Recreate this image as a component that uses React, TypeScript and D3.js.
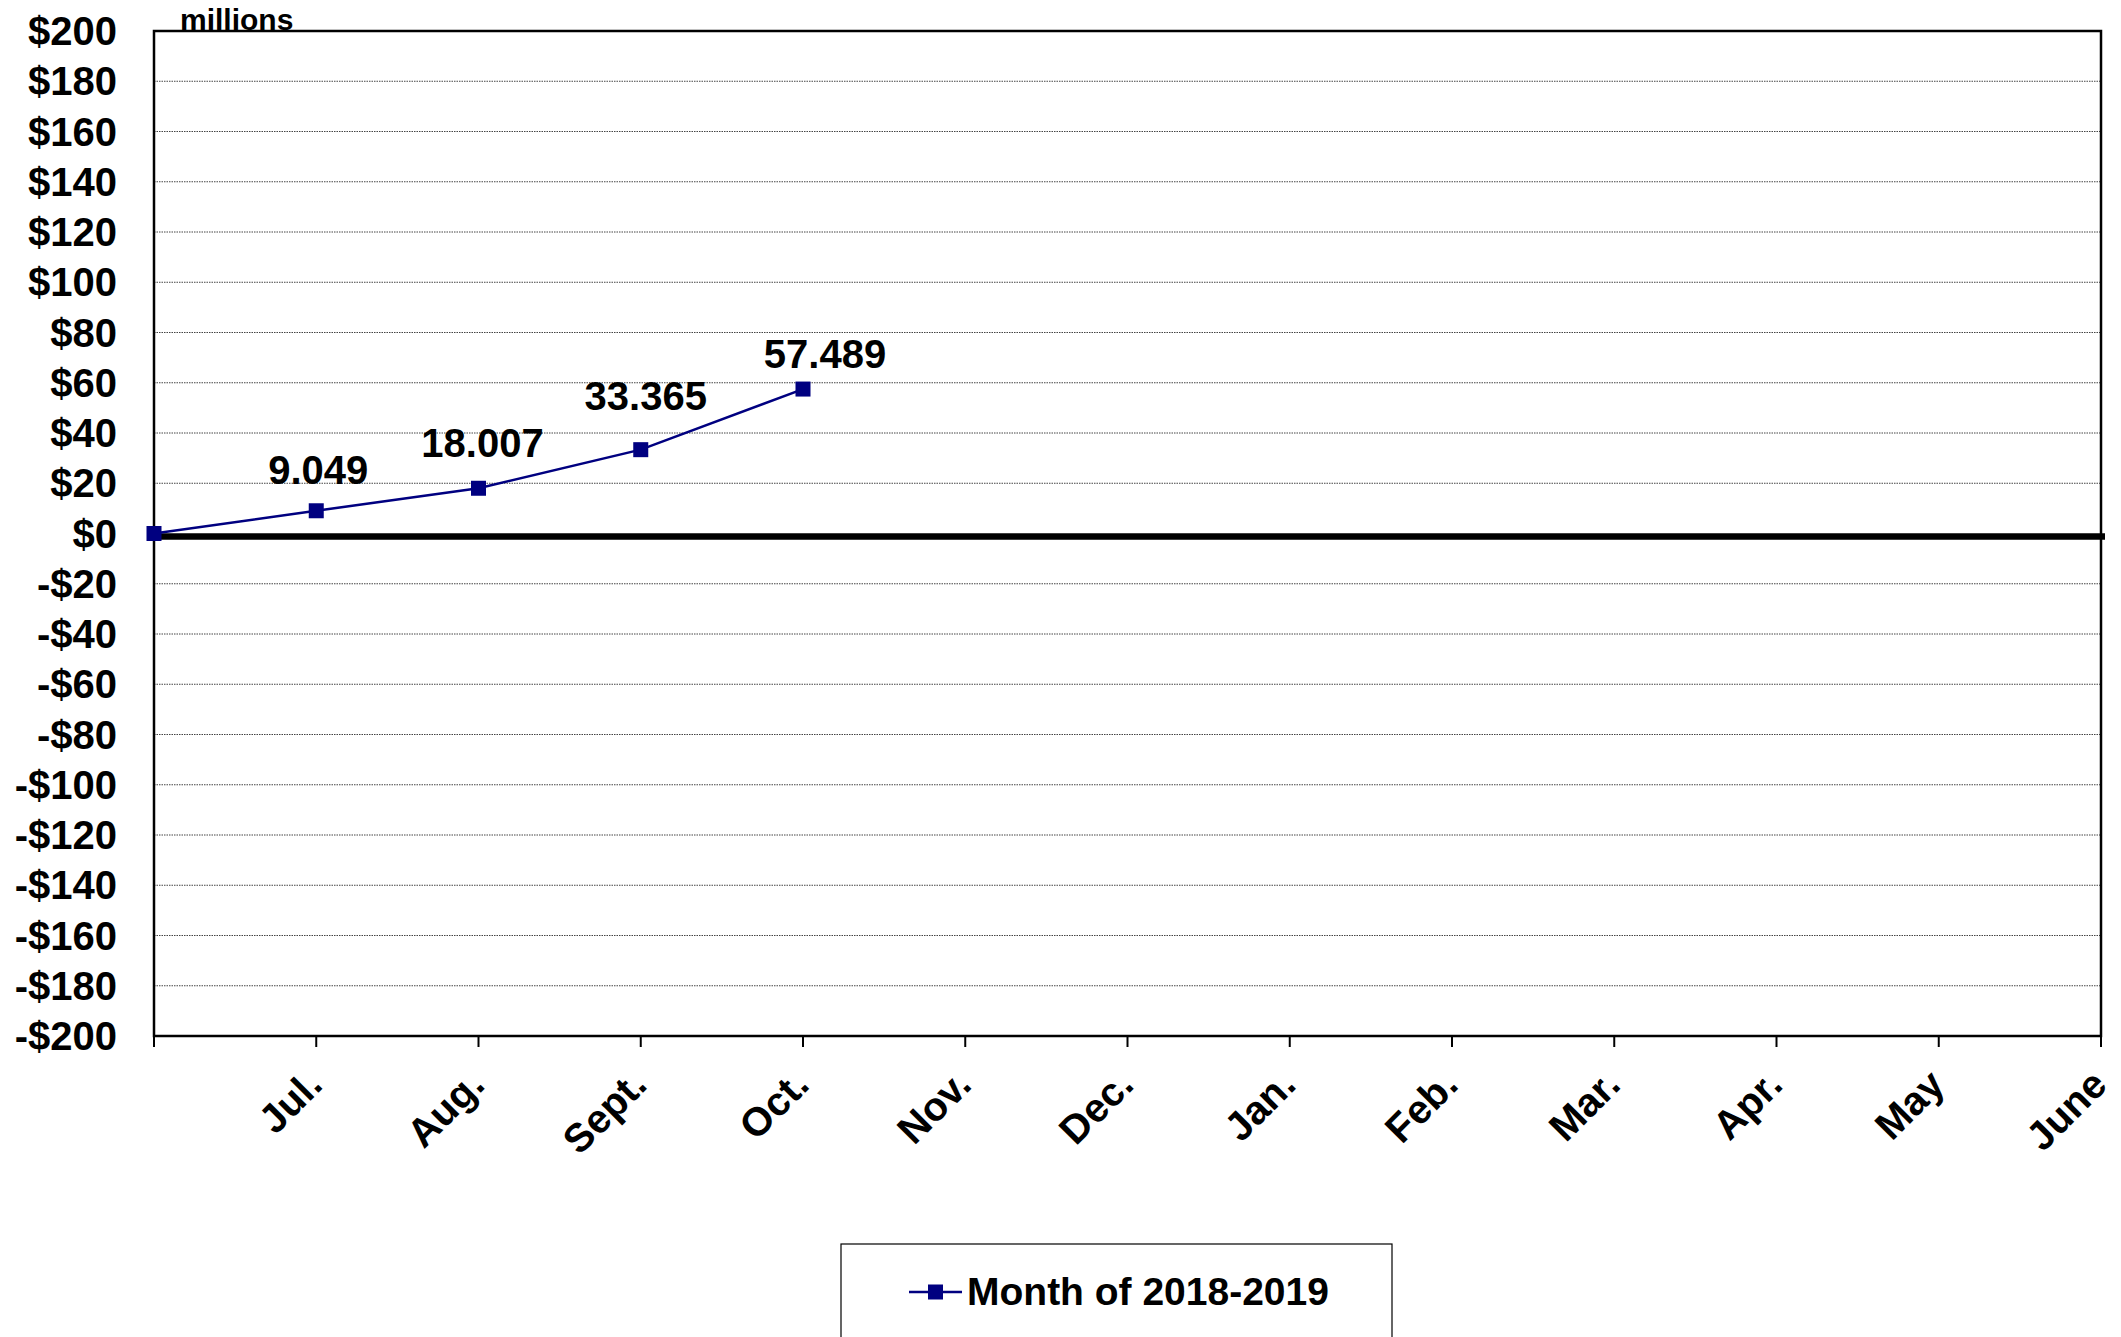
import React from 'react';
import * as d3 from 'd3';

// x positions: index 0 is the start of the fiscal year (no label)
const months = ['', 'Jul.', 'Aug.', 'Sept.', 'Oct.', 'Nov.', 'Dec.', 'Jan.', 'Feb.', 'Mar.', 'Apr.', 'May', 'June'];
const values = [0, 9.049, 18.007, 33.365, 57.489];
const valueLabels = ['', '9.049', '18.007', '33.365', '57.489'];
// small nudges for the data labels, [dx, dy] from the point
const labelNudge = [[0, 0], [2, -27], [4, -31], [5, -40], [22, -21]];
const yTicks = d3.range(-200, 201, 20);
const seriesName = 'Month of 2018-2019';

const W = 2121;
const H = 1337;
const left = 154;
const right = 2101;
const top = 31;
const bottom = 1036;
const navy = '#000080';
const font = '"Liberation Sans", Arial, sans-serif';

const fmt = (v: number) => (v < 0 ? `-$${Math.abs(v)}` : `$${v}`);

const App = () => {
  const x = d3.scaleLinear().domain([0, months.length - 1]).range([left, right]);
  const y = d3.scaleLinear().domain([-200, 200]).range([bottom, top]);

  const line = d3.line<number>()
    .x((d, i) => x(i))
    .y((d) => y(d));

  const ms = 15;

  return (
    <svg width={W} height={H} style={{ position: 'absolute', left: 0, top: 0, background: '#fff' }}
      fontFamily={font} fontWeight="bold">
      {/* gridlines */}
      {yTicks.filter((t) => t !== 0 && t !== 200 && t !== -200).map((t) => (
        <line key={t} x1={left} x2={right} y1={y(t)} y2={y(t)}
          stroke="#444" strokeWidth={1} strokeDasharray="1.5,1" />
      ))}
      {/* zero line */}
      <line x1={left} x2={right + 4} y1={y(0) + 3} y2={y(0) + 3} stroke="#000" strokeWidth={6.5} />

      {/* plot frame */}
      <rect x={left} y={top} width={right - left} height={bottom - top}
        fill="none" stroke="#000" strokeWidth={2.5} />

      {/* y tick labels */}
      {yTicks.map((t) => (
        <text key={t} x={117} y={y(t)} dy="0.35em" textAnchor="end" fontSize={40} fill="#000">
          {fmt(t)}
        </text>
      ))}
      <text x={180} y={30} fontSize={30} fill="#000">millions</text>

      {/* x ticks + labels */}
      {months.map((m, i) => (
        <g key={i}>
          <line x1={x(i)} x2={x(i)} y1={bottom} y2={bottom + 11} stroke="#000" strokeWidth={2} />
          {m && (
            <text transform={`translate(${x(i) + 8},${1087}) rotate(-45)`} textAnchor="end"
              fontSize={40} fill="#000">{m}</text>
          )}
        </g>
      ))}

      {/* series */}
      <path d={line(values) || ''} fill="none" stroke={navy} strokeWidth={2.5} />
      {values.map((v, i) => (
        <rect key={i} x={x(i) - ms / 2} y={y(v) - ms / 2} width={ms} height={ms} fill={navy} />
      ))}
      {values.map((v, i) => valueLabels[i] && (
        <text key={i} x={x(i) + labelNudge[i][0]} y={y(v) + labelNudge[i][1]} textAnchor="middle"
          fontSize={40} fill="#000">{valueLabels[i]}</text>
      ))}

      {/* legend */}
      <rect x={841} y={1244} width={551} height={120} fill="#fff" stroke="#000" strokeWidth={1.2} />
      <line x1={909} x2={962} y1={1292} y2={1292} stroke={navy} strokeWidth={2.5} />
      <rect x={935.5 - ms / 2} y={1292 - ms / 2} width={ms} height={ms} fill={navy} />
      <text x={967} y={1305} fontSize={39} fill="#000">{seriesName}</text>
    </svg>
  );
};

export default App;
